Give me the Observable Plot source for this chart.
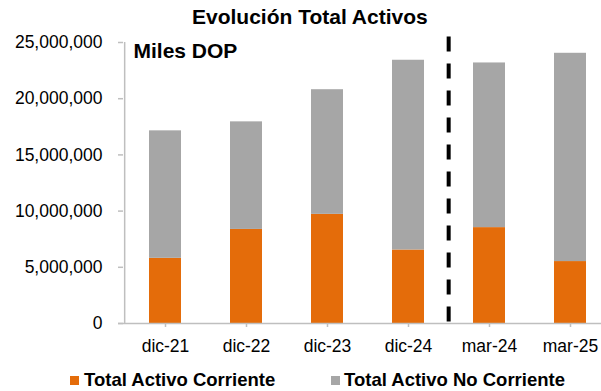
<!DOCTYPE html>
<html>
<head>
<meta charset="utf-8">
<script src="https://cdn.jsdelivr.net/npm/d3@7"></script>
<script src="https://cdn.jsdelivr.net/npm/@observablehq/plot@0.6"></script>
<style>
  html, body { margin: 0; padding: 0; background: #fff; }
  #wrap { position: relative; width: 601px; height: 391px; overflow: hidden; font-family: "Liberation Sans", Arial, sans-serif; color: #000; }
  #title { position: absolute; left: 192px; top: 6px; font-size: 21px; line-height: 21px; font-weight: bold; white-space: nowrap; }
  .leg-sw { position: absolute; width: 9px; height: 9px; }
  .leg-tx { position: absolute; font-size: 18.5px; line-height: 18.5px; font-weight: bold; white-space: nowrap; }
  #chart { position: absolute; left: 0; top: 0; }
  g[aria-label="y-axis tick"] path, g[aria-label="x-axis tick"] path { stroke: #bfbfbf; stroke-width: 1.5; }
</style>
</head>
<body>
<div id="wrap">
  <div id="chart"></div>
  <div id="title">Evolución Total Activos</div>
</div>
<script>
// ---- data ----
const categories = ["dic-21", "dic-22", "dic-23", "dic-24", "mar-24", "mar-25"];
const seriesNames = ["Total Activo Corriente", "Total Activo No Corriente"];
const seriesColors = ["#E46C0A", "#A6A6A6"];
const activoCorriente = [5800000, 8370000, 9710000, 6540000, 8530000, 5510000];
const activoNoCorriente = [11340000, 9570000, 11090000, 16880000, 14650000, 18530000];
const yTicks = [0, 5000000, 10000000, 15000000, 20000000, 25000000];
const unitLabel = ["Miles DOP"];
const dividerAt = ["mar-24"];
const dividerTop = 25500000;

// ---- table ----
const rows = [];
categories.forEach((c, i) => {
  rows.push({cat: c, series: seriesNames[0], value: activoCorriente[i]});
  rows.push({cat: c, series: seriesNames[1], value: activoNoCorriente[i]});
});

const W = 601, H = 391;
const xRange = [123, 613];
const step = (xRange[1] - xRange[0]) / categories.length;

const chart = Plot.plot({
  width: W,
  height: H,
  marginTop: 42,
  marginBottom: 68,
  marginLeft: 123,
  marginRight: 0,
  style: {fontFamily: "Liberation Sans, Arial, sans-serif", fontSize: "17.5px", color: "#000", background: "transparent"},
  x: {domain: categories, range: xRange, paddingInner: 0.6, paddingOuter: 0.3, label: null},
  y: {domain: [0, 25000000], label: null},
  color: {domain: seriesNames, range: seriesColors},
  marks: [
    Plot.barY(rows, {x: "cat", y: "value", fill: "series", order: seriesNames}),
    Plot.axisY({ticks: yTicks, tickFormat: d3.format(","), tickSize: 5, tickPadding: 16, label: null}),
    Plot.axisX({tickSize: 4, tickPadding: 12, label: null}),
    // y axis line
    Plot.ruleX([categories[0]], {x: d => d, dx: -step / 2, stroke: "#bfbfbf", strokeWidth: 1.5}),
    // x axis line
    Plot.ruleY([0], {stroke: "#bfbfbf", strokeWidth: 1.5, insetLeft: -5}),
    // divider
    Plot.ruleX(dividerAt, {x: d => d, y1: dividerTop, y2: 0, dx: -step / 2, stroke: "#000", strokeWidth: 4, strokeDasharray: "15,12"}),
    Plot.text(unitLabel, {frameAnchor: "top-left", text: d => d, dx: 10, dy: 1, fontSize: 21, fontWeight: "bold", fill: "#000", textAnchor: "start"})
  ]
});
document.getElementById("chart").appendChild(chart);

// ---- legend ----
const wrap = document.getElementById("wrap");
const legendPos = [{sw: 70, tx: 84}, {sw: 331, tx: 344}];
seriesNames.forEach((name, i) => {
  const sw = document.createElement("div");
  sw.className = "leg-sw";
  sw.style.left = legendPos[i].sw + "px";
  sw.style.top = "376px";
  sw.style.background = seriesColors[i];
  wrap.appendChild(sw);
  const tx = document.createElement("div");
  tx.className = "leg-tx";
  tx.style.left = legendPos[i].tx + "px";
  tx.style.top = "371px";
  tx.textContent = name;
  wrap.appendChild(tx);
});
</script>
</body>
</html>
